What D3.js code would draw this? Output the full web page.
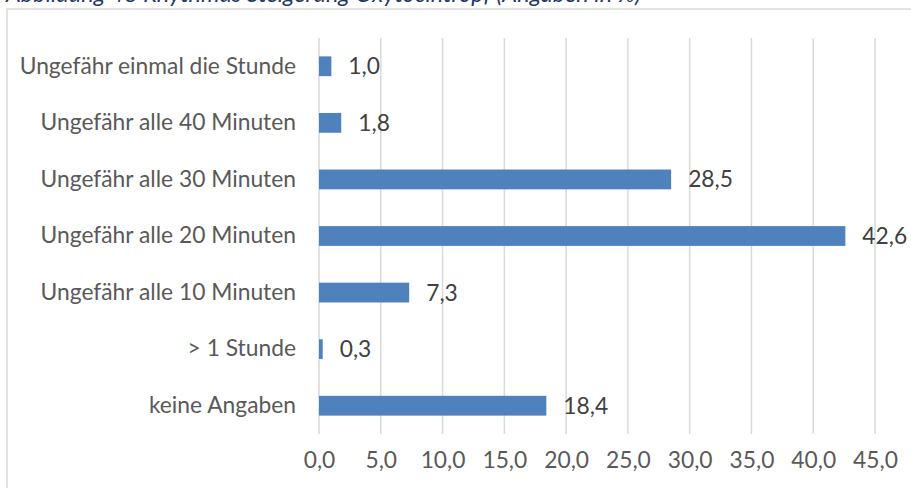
<!DOCTYPE html>
<html>
<head>
<meta charset="utf-8">
<script src="https://cdn.jsdelivr.net/npm/d3@7"></script>
<style>
  body { margin: 0; background: #fff; }
  svg { display: block; font-family: Lato, "Open Sans", sans-serif; }
</style>
</head>
<body>
<script>
'use strict';

var width = 911,
    height = 488,
    fontSize = "22.8px";

// data, top to bottom as in the chart
var categories = [
  "Ungefähr einmal die Stunde",
  "Ungefähr alle 40 Minuten",
  "Ungefähr alle 30 Minuten",
  "Ungefähr alle 20 Minuten",
  "Ungefähr alle 10 Minuten",
  "> 1 Stunde",
  "keine Angaben"
];
var values = [1.0, 1.8, 28.5, 42.6, 7.3, 0.3, 18.4];
var xTicks = [0, 5, 10, 15, 20, 25, 30, 35, 40, 45];
var title = "Abbildung 48 Rhythmus Steigerung Oxytocintropf (Angaben in %)";

var rows = categories.map(function(c, i) { return {cat: c, val: values[i]}; });

var fmt = function(v) { return d3.format(".1f")(v).replace(".", ","); };

var svg = d3.select("body").append("svg")
  .attr("width", width)
  .attr("height", height);

// title, mostly cut off at the top like in the source
svg.append("text")
  .attr("x", 6)
  .attr("y", 2)
  .attr("fill", "#1F3864")
  .style("font-style", "italic")
  .style("font-size", "23.5px")
  .text(title);

// chart area border (right and bottom run off the picture)
svg.append("rect")
  .attr("x", 7)
  .attr("y", 9)
  .attr("width", 1000)
  .attr("height", 600)
  .attr("fill", "none")
  .attr("stroke", "#D9D9D9")
  .attr("stroke-width", 1.5);

var x = d3.scaleLinear()
  .domain([0, 45])
  .range([319, 875]);

var y = d3.scaleBand()
  .domain(categories)
  .range([38, 434])
  .paddingInner(0.65)
  .paddingOuter(0.325);

// gridlines
svg.append("g")
  .selectAll("line")
  .data(xTicks)
  .enter().append("line")
  .attr("x1", function(d) { return x(d); })
  .attr("x2", function(d) { return x(d); })
  .attr("y1", 38)
  .attr("y2", 434)
  .attr("stroke", "#D9D9D9")
  .attr("stroke-width", 1.5);

// x axis labels
var xAxis = d3.axisBottom(x)
  .tickValues(xTicks)
  .tickFormat(fmt)
  .tickSize(0)
  .tickPadding(0);

svg.append("g")
  .attr("transform", "translate(0,452)")
  .call(xAxis)
  .call(function(g) {
    g.select(".domain").remove();
    g.selectAll("text")
      .attr("fill", "#595959")
      .style("font-size", fontSize)
      .style("font-family", "Lato, sans-serif");
  });

// y axis labels
var yAxis = d3.axisLeft(y)
  .tickSize(0)
  .tickPadding(23);

svg.append("g")
  .attr("transform", "translate(319,0)")
  .call(yAxis)
  .call(function(g) {
    g.select(".domain").remove();
    g.selectAll("text")
      .attr("fill", "#595959")
      .style("font-size", fontSize)
      .style("font-family", "Lato, sans-serif");
  });

// bars
svg.append("g")
  .selectAll("rect")
  .data(rows)
  .enter().append("rect")
  .attr("x", x(0))
  .attr("y", function(d) { return y(d.cat); })
  .attr("width", function(d) { return x(d.val) - x(0); })
  .attr("height", y.bandwidth())
  .attr("fill", "#4F81BD");

// value labels
svg.append("g")
  .selectAll("text")
  .data(rows)
  .enter().append("text")
  .attr("x", function(d) { return x(d.val) + 17; })
  .attr("y", function(d) { return y(d.cat) + y.bandwidth() / 2; })
  .attr("dy", "0.35em")
  .attr("fill", "#404040")
  .style("font-size", fontSize)
  .text(function(d) { return fmt(d.val); });
</script>
</body>
</html>
